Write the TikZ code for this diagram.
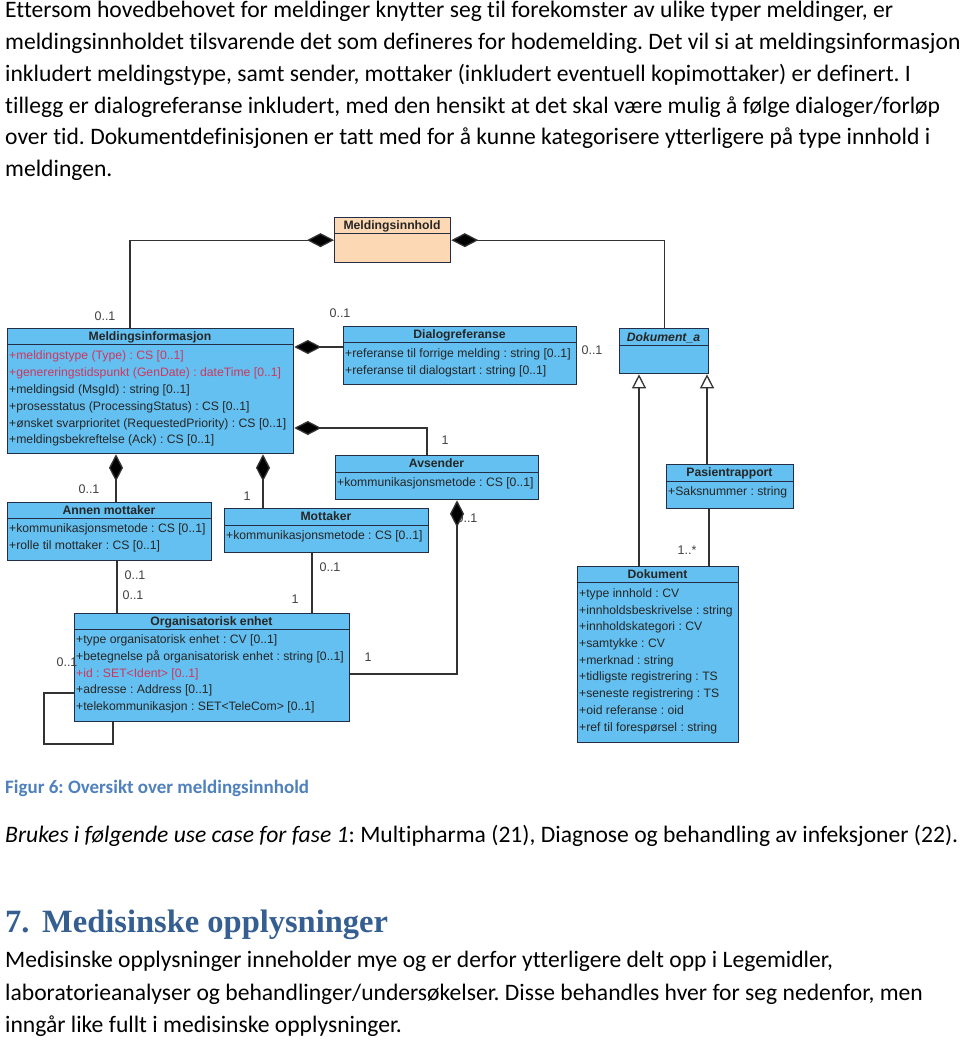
\documentclass[tikz,border=0pt]{standalone}
\usepackage{fontspec}
\setmainfont{Carlito}[Ligatures=NoCommon]
\newfontfamily\umlfont{Liberation Sans}
\newfontfamily\headfont{Liberation Serif}
\usetikzlibrary{arrows.meta}
\frenchspacing
\definecolor{clsfill}{RGB}{100,192,240}
\definecolor{clsline}{RGB}{35,45,70}
\definecolor{peach}{RGB}{252,216,180}
\definecolor{attred}{RGB}{205,55,95}
\definecolor{capblue}{RGB}{79,129,189}
\definecolor{headblue}{RGB}{54,95,145}
\definecolor{conn}{RGB}{50,50,50}
\tikzset{
 clsbox/.style={draw=clsline, line width=1.3pt, fill=clsfill, inner sep=0pt, anchor=north west},
 clstitle/.style={font=\umlfont\fontsize{12.2pt}{14pt}\selectfont\bfseries, text=black!85, inner sep=0pt, anchor=base},
 attr/.style={font=\umlfont\fontsize{12.2pt}{14pt}\selectfont, text=black!85, inner sep=0pt, anchor=base west},
 redattr/.style={attr, text=attred},
 mult/.style={font=\umlfont\fontsize{12.5pt}{14pt}\selectfont, text=black!75, inner sep=0pt},
 assoc/.style={draw=conn, line width=1.3pt},
 comp/.style={assoc, {Diamond[length=27pt,width=14pt,fill=black]}-},
 gen/.style={assoc, -{Triangle[open,length=14pt,width=14pt,fill=white]}},
 body/.style={font=\fontsize{23.6pt}{28pt}\selectfont, inner sep=0pt, anchor=base west},
}
% #1 extra style, #2 name, #3 x1, #4 y1, #5 x2, #6 y2, #7 separator y, #8 title y, #9 title
\newcommand\umlclass[9][]{%
 \node[clsbox, minimum width={(#5-#3)*1pt}, minimum height={(#6-#4)*1pt}, #1] (#2) at (#3,#4) {};
 \draw[draw=clsline, line width=1pt] (#3,#7) -- (#5,#7);
 \node[clstitle] (#2-t) at ({(#3+#5)/2},{#8+4}) {#9};
}
\begin{document}
\begin{tikzpicture}[x=1pt,y=-1pt]
\fill[white] (0,0) rectangle (960,1041);
\useasboundingbox (0,0) rectangle (960,1041);

% ---------- body text ----------
\node[body] (p1) at (5,18) {Ettersom hovedbehovet for meldinger knytter seg til forekomster av ulike typer meldinger, er};
\node[body] (p2) at (5,49.7) {meldingsinnholdet tilsvarende det som defineres for hodemelding. Det vil si at meldingsinformasjon};
\node[body] (p3) at (5,81.4) {inkludert meldingstype, samt sender, mottaker (inkludert eventuell kopimottaker) er definert. I};
\node[body] (p4) at (5,113) {tillegg er dialogreferanse inkludert, med den hensikt at det skal være mulig å følge dialoger/forløp};
\node[body] (p5) at (5,144.8) {over tid. Dokumentdefinisjonen er tatt med for å kunne kategorisere ytterligere på type innhold i};
\node[body] (p6) at (5,176.5) {meldingen.};

% ---------- classes ----------
\umlclass[fill=peach]{mh}{334}{217}{450}{262}{233}{225}{Meldingsinnhold}
\umlclass{mi}{7}{328}{293}{453}{344}{336}{Meldingsinformasjon}
\node[redattr] (mi1) at (9,359) {+meldingstype (Type) : CS [0..1]};
\node[redattr] (mi2) at (9,376) {+genereringstidspunkt (GenDate) : dateTime [0..1]};
\node[attr] (mi3) at (9,393) {+meldingsid (MsgId) : string [0..1]};
\node[attr] (mi4) at (9,410) {+prosesstatus (ProcessingStatus) : CS [0..1]};
\node[attr] (mi5) at (9,427) {+ønsket svarprioritet (RequestedPriority) : CS [0..1]};
\node[attr] (mi6) at (9,443) {+meldingsbekreftelse (Ack) : CS [0..1]};

\umlclass{dr}{343}{326}{576}{384}{342}{334}{Dialogreferanse}
\node[attr] (dr1) at (345,357) {+referanse til forrige melding : string [0..1]};
\node[attr] (dr2) at (345,374) {+referanse til dialogstart : string [0..1]};

\umlclass{da}{619}{328}{708}{373}{345}{337}{\itshape Dokument\_a}

\umlclass{av}{335}{455}{538}{499}{472}{463}{Avsender}
\node[attr] (av1) at (337,486) {+kommunikasjonsmetode : CS [0..1]};

\umlclass{am}{7}{502}{211}{560}{518}{510}{Annen mottaker}
\node[attr] (am1) at (9,532) {+kommunikasjonsmetode : CS [0..1]};
\node[attr] (am2) at (9,549) {+rolle til mottaker : CS [0..1]};

\umlclass{mo}{224}{508}{428}{552}{525}{516}{Mottaker}
\node[attr] (mo1) at (226,539) {+kommunikasjonsmetode : CS [0..1]};

\umlclass{oe}{74}{613}{349}{721}{629}{621}{Organisatorisk enhet}
\node[attr] (oe1) at (76,643) {+type organisatorisk enhet : CV [0..1]};
\node[attr] (oe2) at (76,660) {+betegnelse på organisatorisk enhet : string [0..1]};
\node[redattr] (oe3) at (76,677) {+id : SET<Ident> [0..1]};
\node[attr] (oe4) at (76,693) {+adresse : Address [0..1]};
\node[attr] (oe5) at (76,710) {+telekommunikasjon : SET<TeleCom> [0..1]};

\umlclass{pr}{666}{464}{793}{508}{481}{472}{Pasientrapport}
\node[attr] (pr1) at (668,495) {+Saksnummer : string};

\umlclass{dk}{577}{566}{738}{742}{582}{574}{Dokument}
\node[attr] (dk1) at (579,597) {+type innhold : CV};
\node[attr] (dk2) at (579,614) {+innholdsbeskrivelse : string};
\node[attr] (dk3) at (579,630) {+innholdskategori : CV};
\node[attr] (dk4) at (579,647) {+samtykke : CV};
\node[attr] (dk5) at (579,664) {+merknad : string};
\node[attr] (dk6) at (579,680) {+tidligste registrering : TS};
\node[attr] (dk7) at (579,697) {+seneste registrering : TS};
\node[attr] (dk8) at (579,714) {+oid referanse : oid};
\node[attr] (dk9) at (579,731) {+ref til forespørsel : string};

% ---------- multiplicities ----------
\node[mult] (m1) at (105,316) {0..1};
\node[mult] (m2) at (340,313) {0..1};
\node[mult] (m3) at (592,350) {0..1};
\node[mult] (m4) at (445,440) {1};
\node[mult] (m5) at (89,489) {0..1};
\node[mult] (m6) at (247,496) {1};
\node[mult] (m7) at (467,518) {0..1};
\node[mult] (m8) at (135,575) {0..1};
\node[mult] (m9) at (133,595) {0..1};
\node[mult] (m10) at (330,567) {0..1};
\node[mult] (m11) at (295,599) {1};
\node[mult] (m12) at (368,657) {1};
\node[mult] (m13) at (67,662) {0..1};
\node[mult] (m14) at (687,550) {1..*};

% ---------- connectors ----------
\coordinate (k1) at (130,239);
\draw[comp] (mh.west) -| (mi.north -| k1);
\draw[comp] (mh.east) -| (da.north);
\draw[comp] (mi.east |- 0,347) -- (dr.west |- 0,347);
\draw[comp] (mi.east |- 0,428) -| (av.north -| 427,0);
\draw[comp] (mi.south -| 116,0) -- (am.north -| 116,0);
\draw[comp] (mi.south -| 263,0) -- (mo.north -| 263,0);
\draw[assoc] (am.south -| 117,0) -- (oe.north -| 117,0);
\draw[assoc] (mo.south -| 312,0) -- (oe.north -| 312,0);
\draw[comp] (av.south -| 457,0) |- (oe.east |- 0,674);
\coordinate (lp) at (44,744);
\draw[assoc] (oe.west |- 0,693) -| (lp) -| (oe.south -| 113,0);
\draw[gen] (dk.north -| 639,0) -- (da.south -| 639,0);
\draw[gen] (pr.north -| 707,0) -- (da.south -| 707,0);
\draw[assoc] (pr.south -| 709,0) -- (dk.north -| 709,0);

% ---------- caption and following text ----------
\node[font=\bfseries\fontsize{19pt}{22pt}\selectfont, text=capblue, inner sep=0pt, anchor=base west] (cap) at (5,793) {Figur 6: Oversikt over meldingsinnhold};
\node[body] (bk) at (5,842) {\textit{Brukes i følgende use case for fase 1}: Multipharma (21), Diagnose og behandling av infeksjoner (22).};
\node[font=\headfont\bfseries\fontsize{32.5pt}{38pt}\selectfont, text=headblue, inner sep=0pt, anchor=base west] (h7) at (5,932) {7.};
\node[font=\headfont\bfseries\fontsize{32.5pt}{38pt}\selectfont, text=headblue, inner sep=0pt, anchor=base west] (h7t) at (42,932) {Medisinske opplysninger};
\node[body] (q1) at (5,967) {Medisinske opplysninger inneholder mye og er derfor ytterligere delt opp i Legemidler,};
\node[body] (q2) at (5,1000) {laboratorieanalyser og behandlinger/undersøkelser. Disse behandles hver for seg nedenfor, men};
\node[body] (q3) at (5,1032) {inngår like fullt i medisinske opplysninger.};
\end{tikzpicture}
\end{document}
